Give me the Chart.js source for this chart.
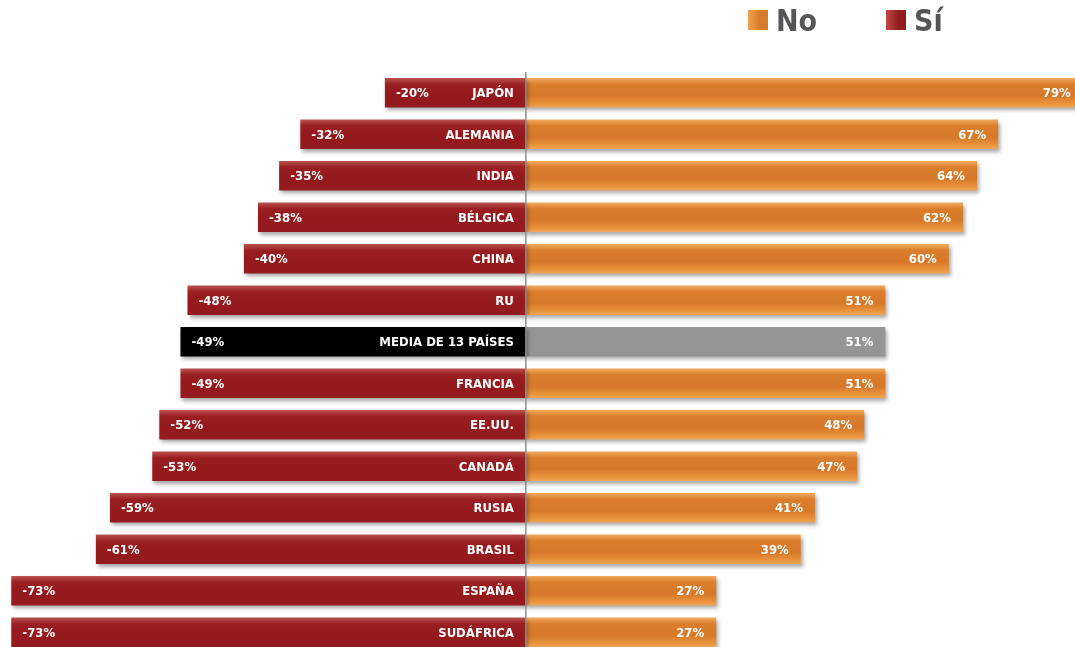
<!DOCTYPE html>
<html>
<head>
<meta charset="utf-8">
<script src="https://cdn.jsdelivr.net/npm/chart.js@4"></script>
<style>
  body { margin: 0; background: #fff; overflow: hidden; }
  #wrap { position: relative; width: 1075px; height: 647px; overflow: hidden; }
  #legend { position: absolute; top: 0; left: 0; font-family: "DejaVu Sans Condensed", "DejaVu Sans", sans-serif; font-weight: bold; color: #555; font-size: 30px; }
  .item { position: absolute; top: 3px; white-space: nowrap; line-height: 36px; }
  .sw { display: inline-block; width: 20px; height: 20px; vertical-align: 1px; margin-right: 8px; }
</style>
</head>
<body>
<div id="wrap">
  <canvas id="c" width="1075" height="653"></canvas>
  <div id="legend">
    <div class="item" style="left:748px"><span class="sw" style="background:linear-gradient(90deg,#f2a24e,#d77a2a 60%)"></span>No</div>
    <div class="item" style="left:886px"><span class="sw" style="background:linear-gradient(90deg,#c04a44,#951a1e 60%)"></span>Sí</div>
  </div>
</div>
<script>
var countries = ['JAPÓN', 'ALEMANIA', 'INDIA', 'BÉLGICA', 'CHINA', 'RU', 'MEDIA DE 13 PAÍSES', 'FRANCIA', 'EE.UU.', 'CANADÁ', 'RUSIA', 'BRASIL', 'ESPAÑA', 'SUDÁFRICA'];
var siValues = [-20, -32, -35, -38, -40, -48, -49, -49, -52, -53, -59, -61, -73, -73];
var noValues = [79, 67, 64, 62, 60, 51, 51, 51, 48, 47, 41, 39, 27, 27];
var averageLabel = 'MEDIA DE 13 PAÍSES';

var labelFont = 'bold 13px "DejaVu Sans Condensed", "DejaVu Sans", sans-serif';

function barGradient(context, stops, flat) {
  var chart = context.chart;
  if (countries[context.dataIndex] === averageLabel) return flat;
  if (!chart.chartArea || !chart.scales.y) return stops[1][1];
  var yc = chart.scales.y.getPixelForValue(context.dataIndex);
  var g = chart.ctx.createLinearGradient(0, yc - 15, 0, yc + 15);
  stops.forEach(function(s){ g.addColorStop(s[0], s[1]); });
  return g;
}

var redStops = [[0, '#bb5550'], [0.22, '#9a1f22'], [0.5, '#951a1e'], [1, '#931a1e']];
var orangeStops = [[0, '#f4ac60'], [0.22, '#da7e2c'], [0.6, '#d67829'], [0.85, '#e8923a'], [1, '#f2a657']];

var shadowPlugin = {
  id: 'barShadow',
  beforeDatasetsDraw: function(chart){
    var ctx = chart.ctx;
    ctx.save();
    ctx.shadowColor = 'rgba(0,0,0,0.35)';
    ctx.shadowBlur = 4;
    ctx.shadowOffsetX = 2;
    ctx.shadowOffsetY = 3;
  },
  afterDatasetsDraw: function(chart){
    chart.ctx.restore();
  }
};

var labelPlugin = {
  id: 'barLabels',
  afterDatasetsDraw: function(chart){
    var ctx = chart.ctx;
    var x0 = chart.scales.x.getPixelForValue(0);
    var area = chart.chartArea;
    ctx.save();
    // zero line
    ctx.strokeStyle = '#8e8e8e';
    ctx.lineWidth = 1.5;
    ctx.beginPath();
    ctx.moveTo(x0, area.top);
    ctx.lineTo(x0, area.bottom);
    ctx.stroke();

    ctx.font = labelFont;
    ctx.fillStyle = '#fff';
    ctx.textBaseline = 'middle';
    var siMeta = chart.getDatasetMeta(0);
    var noMeta = chart.getDatasetMeta(1);
    siMeta.data.forEach(function(bar, i){
      ctx.textAlign = 'left';
      ctx.fillText(siValues[i] + '%', bar.x + 11, bar.y + 1);
      ctx.textAlign = 'right';
      ctx.fillText(countries[i], x0 - 12, bar.y + 1);
    });
    noMeta.data.forEach(function(bar, i){
      ctx.textAlign = 'right';
      var xEnd = Math.min(bar.x, area.right + 8);
      ctx.fillText(noValues[i] + '%', bar.x - 12, bar.y + 1);
    });
    ctx.restore();
  }
};

new Chart(document.getElementById('c'), {
  type: 'bar',
  data: {
    labels: countries,
    datasets: [
      {
        label: 'Sí',
        data: siValues,
        backgroundColor: function(context){ return barGradient(context, redStops, '#000000'); },
        barPercentage: 0.71,
        categoryPercentage: 1
      },
      {
        label: 'No',
        data: noValues,
        backgroundColor: function(context){ return barGradient(context, orangeStops, '#959595'); },
        barPercentage: 0.71,
        categoryPercentage: 1
      }
    ]
  },
  options: {
    indexAxis: 'y',
    responsive: false,
    animation: false,
    layout: { padding: { top: 72, bottom: 0, left: 0, right: 0 } },
    scales: {
      x: { display: false, stacked: true, min: -74.6, max: 77.9 },
      y: { display: false, stacked: true }
    },
    plugins: {
      legend: { display: false },
      tooltip: { enabled: false }
    }
  },
  plugins: [shadowPlugin, labelPlugin]
});
</script>
</body>
</html>
